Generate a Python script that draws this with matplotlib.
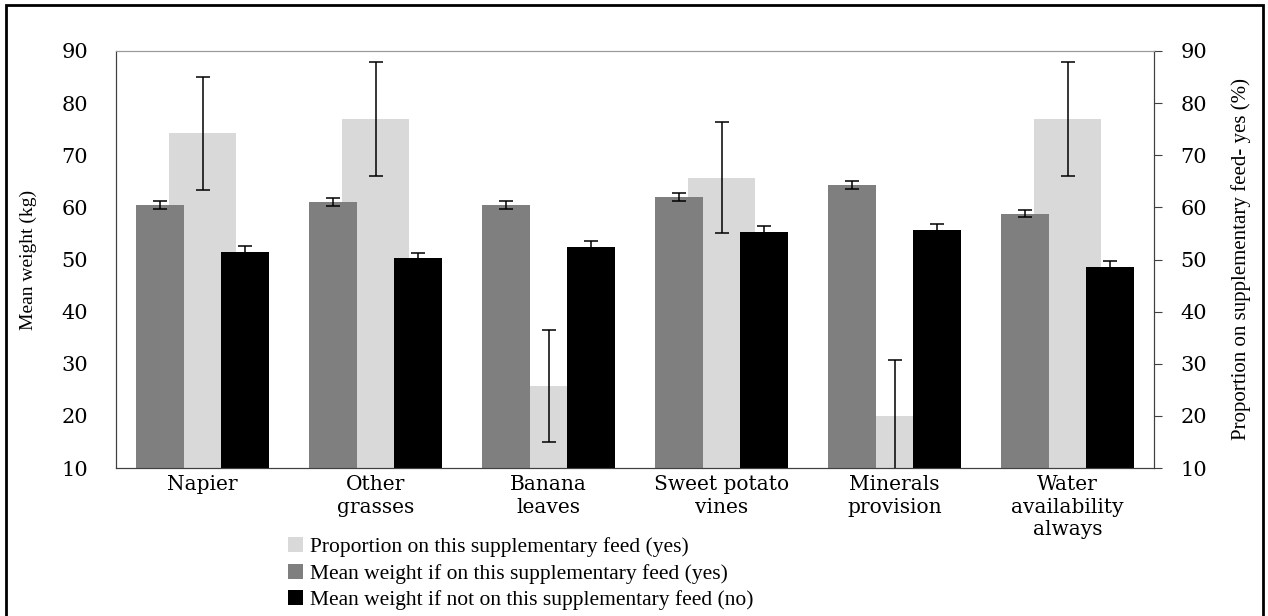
import matplotlib.pyplot as plt
import numpy as np
from matplotlib.patches import Rectangle

# dados
categorias = ["Napier", "Other\ngrasses", "Banana\nleaves", "Sweet potato\nvines",
              "Minerals\nprovision", "Water\navailability\nalways"]
proporcao_sim = [74.2, 77.0, 25.7, 65.7, 20.0, 77.0]
proporcao_erro = [10.8, 10.9, 10.8, 10.7, 10.8, 10.9]
peso_sim = [60.5, 61.0, 60.4, 62.0, 64.3, 58.8]
peso_sim_erro = [0.8, 0.8, 0.8, 0.7, 0.7, 0.7]
peso_nao = [51.5, 50.2, 52.4, 55.3, 55.7, 48.6]
peso_nao_erro = [1.1, 1.1, 1.1, 1.1, 1.1, 1.1]

plt.rcParams["font.family"] = "Liberation Serif"
fonte_ticks = "DejaVu Serif"

fig = plt.figure(figsize=(12.68, 6.16), dpi=100)
ax = fig.add_axes([116 / 1268, 1 - 468 / 616, (1154 - 116) / 1268, (468 - 51) / 616])
ax2 = ax.twinx()

x = np.arange(len(categorias))
erro_kw = dict(ecolor="black", elinewidth=1.1, capsize=5, capthick=1.1)

# barra clara fica atras (eixo secundario)
ax2.bar(x, proporcao_sim, width=0.39, color="#d9d9d9", yerr=proporcao_erro,
        error_kw=erro_kw, label="Proportion on this supplementary feed (yes)")
ax2.set_ylim(10, 90)

ax.set_zorder(ax2.get_zorder() + 1)
ax.patch.set_visible(False)
ax.bar(x - 0.245, peso_sim, width=0.28, color="#7f7f7f", yerr=peso_sim_erro,
       error_kw=erro_kw, label="Mean weight if on this supplementary feed (yes)")
ax.bar(x + 0.245, peso_nao, width=0.28, color="black", yerr=peso_nao_erro,
       error_kw=erro_kw, label="Mean weight if not on this supplementary feed (no)")
ax.set_ylim(10, 90)
ax.set_xlim(-0.5, len(categorias) - 0.5)

ax.set_xticks(x)
ax.set_xticklabels(categorias, fontsize=14.5, linespacing=1.25, family=fonte_ticks)
ax.tick_params(axis="x", length=0, pad=5)
ax.set_yticks(range(10, 91, 10))
ax.set_yticklabels([str(v) for v in range(10, 91, 10)], family=fonte_ticks, fontsize=15)
ax.tick_params(axis="y", length=0, pad=20)
ax2.set_yticks(range(10, 91, 10))
ax2.set_yticklabels([str(v) for v in range(10, 91, 10)], family=fonte_ticks, fontsize=15)
ax2.tick_params(axis="y", length=6, pad=13, color="#404040")

ax.set_ylabel("Mean weight (kg)", fontsize=14)
ax.yaxis.set_label_coords(-0.076, 0.5)
ax2.set_ylabel("Proportion on supplementary feed- yes (%)", fontsize=15)
ax2.yaxis.set_label_coords(1.074, 0.5)

for a in (ax, ax2):
    a.spines["top"].set_color("#9a9a9a")
    a.spines["left"].set_color("#404040")
    a.spines["bottom"].set_color("#404040")
    a.spines["right"].set_color("#404040")

h1, l1 = ax2.get_legend_handles_labels()
h2, l2 = ax.get_legend_handles_labels()
fig.legend(h1 + h2, l1 + l2, loc="upper left", bbox_to_anchor=(288 / 1268, 1 - 537 / 616),
           frameon=False, fontsize=15.5, handlelength=0.7, handleheight=0.7,
           handletextpad=0.3, labelspacing=0.3, borderaxespad=0, borderpad=0)

# moldura externa
fig.patches.append(Rectangle((6 / 1268, -0.05), 1257 / 1268, 1.05 - 5 / 616,
                             transform=fig.transFigure, fill=False, edgecolor="black",
                             linewidth=2))

fig.savefig("out.png", dpi=100)
